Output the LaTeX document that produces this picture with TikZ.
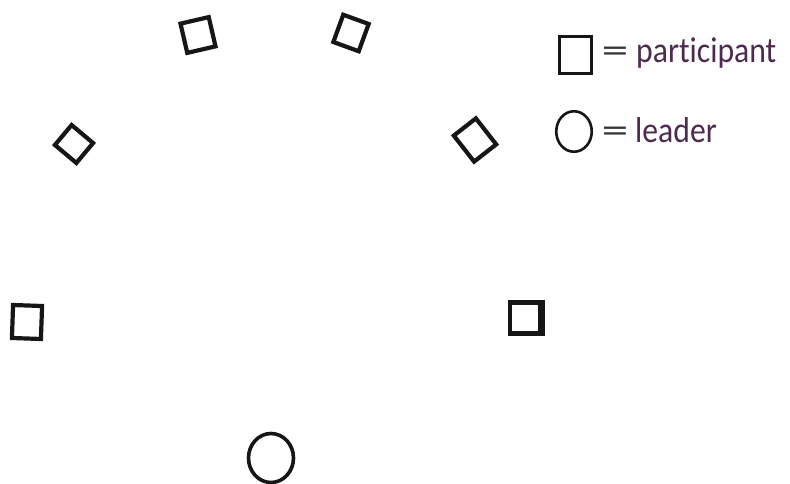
\documentclass[tikz,border=0pt]{standalone}
\usepackage{fontspec}
\newfontfamily\legendfont{Carlito}[FakeStretch=0.88, Ligatures=NoCommon]
\definecolor{ink}{RGB}{22,22,22}
\definecolor{txt}{RGB}{78,42,78}
\definecolor{eqc}{RGB}{55,55,55}
\tikzset{
  part/.style={draw=ink, line width=4.2pt, rectangle, inner sep=0pt, line join=miter},
  lead/.style={draw=ink, line width=3.6pt, ellipse, inner sep=0pt},
  legtext/.style={inner sep=0pt, anchor=base west, font=\legendfont\fontsize{36}{40}\selectfont, text=txt},
  legeq/.style={inner sep=0pt, anchor=center, font=\legendfont\fontsize{36}{40}\selectfont, text=eqc}
}
\usetikzlibrary{shapes.geometric}
\begin{document}
\begin{tikzpicture}[x=1pt,y=-1pt]
\useasboundingbox (0,0) rectangle (790,484);
\clip (0,0) rectangle (790,484);
% participants
\node[part, minimum width=29pt, minimum height=30pt, rotate=13] (p1) at (198,35) {};
\node[part, minimum width=27pt, minimum height=29pt, rotate=-20] (p2) at (351,33) {};
\node[part, minimum width=26pt, minimum height=28pt, rotate=50] (p3) at (74,144) {};
\node[part, minimum width=28pt, minimum height=33pt, rotate=38] (p4) at (475,140) {};
\node[part, minimum width=29pt, minimum height=33pt, rotate=-2] (p5) at (27,322) {};
\node[part, minimum width=30pt, minimum height=31pt] (p6) at (525,318) {};
\draw[ink, line width=3pt] ([xshift=1.5pt]p6.north east) -- ([xshift=1.5pt]p6.south east);
% leader
\node[lead, minimum width=45pt, minimum height=49pt] (l1) at (271,458) {};
% legend
\node[draw=ink, line width=2.8pt, rectangle, inner sep=0pt, minimum width=32.5pt, minimum height=37.5pt] (lsq) at (575.5,55) {};
\node[draw=ink, line width=2.6pt, ellipse, inner sep=0pt, minimum width=35.5pt, minimum height=40.5pt] (lci) at (574,131.5) {};
\node[legeq] (eq1) at (615,55) {\scalebox{1.7}[1]{=}};
\node[legeq] (eq2) at (615,135) {\scalebox{1.7}[1]{=}};
\node[legtext] (t1) at (636,63) {participant};
\node[legtext] (t2) at (635,143) {leader};
\end{tikzpicture}
\end{document}
